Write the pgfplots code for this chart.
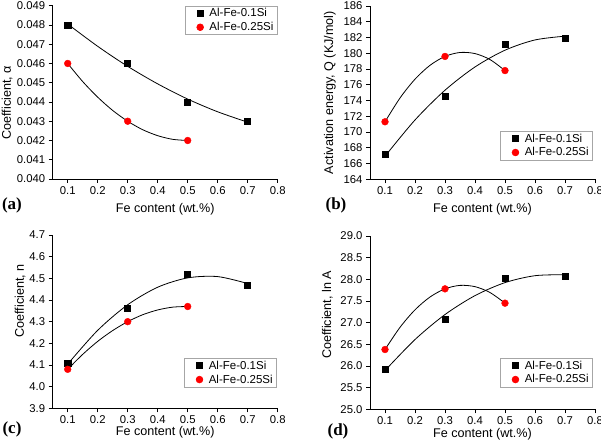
\documentclass[border=0pt]{standalone}
\usepackage{fontspec}
\setmainfont{Liberation Sans}
\newfontfamily\seriffont{Liberation Serif}
\usepackage{pgfplots}
\pgfplotsset{compat=1.18}

\newcommand\tickfont{\fontsize{11.3}{13}\selectfont}
\newcommand\labfont{\fontsize{12.6}{14}\selectfont}
\newcommand\legfont{\fontsize{11.5}{13}\selectfont}

\pgfplotsset{
  panel/.style={
    scale only axis, width=225pt, height=173.3pt,
    axis lines=left, axis line style={-, line width=0.9pt},
    tick align=outside, major tick length=4pt,
    tick style={line width=0.9pt, black},
    xmin=0.05, xmax=0.8, xtick={0.1,0.2,0.3,0.4,0.5,0.6,0.7,0.8},
    scaled ticks=false,
    /pgf/number format/assume math mode=true,
    xticklabel style={font=\tickfont, /pgf/number format/fixed, /pgf/number format/precision=1},
    yticklabel style={font=\tickfont},
    xlabel={Fe content (wt.\%)},
    clip=false,
    legend cell align=left,
    legend image code/.code={
      \draw[opacity=0] (-5pt,0pt) -- (15pt,0pt);
      \draw[##1, /tikz/only marks] plot coordinates {(8pt,0pt)};
    },
    legend style={draw=gray!70, line width=0.6pt, anchor=north east,
      font=\legfont, inner xsep=2pt, inner ysep=1pt,
      nodes={inner ysep=1.5pt}, row sep=1pt},
  },
  fitline/.style={black, line width=0.8pt, smooth, no marks, forget plot},
  sqpt/.style={only marks, mark=square*, mark size=3pt, black},
  rdpt/.style={only marks, mark=*, mark size=3.4pt, red, mark options={draw=red, fill=red}},
}

\begin{document}
\begin{tikzpicture}
\useasboundingbox (0,0) rectangle (601pt,447pt);

% (a) coefficient alpha
\begin{axis}[panel, at={(52.7pt,268pt)}, anchor=south west,
  ymin=0.040, ymax=0.049,
  ytick={0.040,0.041,0.042,0.043,0.044,0.045,0.046,0.047,0.048,0.049},
  yticklabel style={/pgf/number format/fixed, /pgf/number format/fixed zerofill, /pgf/number format/precision=3},
  ylabel={Coefficient, α},
  every axis y label/.style={at={(axis description cs:-0.203,0.44)}, rotate=90, anchor=center, font=\labfont},
  every axis x label/.style={at={(axis description cs:0.5,0)}, anchor=center, yshift=-30pt, font=\labfont},
  legend style={at={(axis description cs:1,1)}}]
\addplot[fitline] coordinates {(0.1,0.04805)(0.2,0.04689)(0.3,0.04585)(0.4,0.04494)(0.5,0.04415)(0.6,0.04349)(0.7,0.04295)};
\addplot[fitline] coordinates {(0.1,0.046)(0.15,0.04506)(0.2,0.04425)(0.25,0.04356)(0.3,0.043)(0.35,0.04256)(0.4,0.04225)(0.45,0.04206)(0.5,0.042)};
\addplot[sqpt] coordinates {(0.1,0.048)(0.3,0.046)(0.5,0.044)(0.7,0.043)};
\addplot[rdpt] coordinates {(0.1,0.046)(0.3,0.043)(0.5,0.042)};
\legend{Al-Fe-0.1Si, Al-Fe-0.25Si}
\end{axis}

% (b) activation energy
\begin{axis}[panel, at={(370pt,267.7pt)}, anchor=south west,
  ymin=164, ymax=186, ytick={164,166,...,186},
  ylabel={Activation energy, Q (KJ/mol)},
  every axis y label/.style={at={(axis description cs:-0.178,0.5)}, rotate=90, anchor=center, font=\labfont},
  every axis x label/.style={at={(axis description cs:0.5,0)}, anchor=center, yshift=-30pt, font=\labfont},
  legend style={at={(axis description cs:0.991,0.279)}}]
\addplot[fitline] coordinates {(0.1,166.93)(0.2,171.53)(0.3,175.31)(0.4,178.26)(0.5,180.39)(0.6,181.69)(0.7,182.17)};
\addplot[fitline] coordinates {(0.1,171.3)(0.15,174.32)(0.2,176.71)(0.25,178.47)(0.3,179.6)(0.35,180.10)(0.4,179.96)(0.45,179.20)(0.5,177.8)};
\addplot[sqpt] coordinates {(0.1,167.2)(0.3,174.5)(0.5,181.2)(0.7,181.9)};
\addplot[rdpt] coordinates {(0.1,171.3)(0.3,179.6)(0.5,177.8)};
\legend{Al-Fe-0.1Si, Al-Fe-0.25Si}
\end{axis}

% (c) coefficient n
\begin{axis}[panel, at={(52.7pt,38.7pt)}, anchor=south west,
  ymin=3.9, ymax=4.7, ytick={3.9,4.0,4.1,4.2,4.3,4.4,4.5,4.6,4.7},
  yticklabel style={/pgf/number format/fixed, /pgf/number format/fixed zerofill, /pgf/number format/precision=1},
  ylabel={Coefficient, n},
  every axis y label/.style={at={(axis description cs:-0.145,0.62)}, rotate=90, anchor=center, font=\labfont},
  every axis x label/.style={at={(axis description cs:0.5,0)}, anchor=center, yshift=-24pt, font=\labfont},
  legend style={at={(axis description cs:0.997,0.29)}}]
\addplot[fitline] coordinates {(0.1,4.104)(0.2,4.260)(0.3,4.378)(0.4,4.459)(0.5,4.502)(0.6,4.508)(0.7,4.476)};
\addplot[fitline] coordinates {(0.1,4.08)(0.15,4.149)(0.2,4.209)(0.25,4.259)(0.3,4.30)(0.35,4.332)(0.4,4.354)(0.45,4.367)(0.5,4.37)};
\addplot[sqpt] coordinates {(0.1,4.11)(0.3,4.36)(0.5,4.52)(0.7,4.47)};
\addplot[rdpt] coordinates {(0.1,4.08)(0.3,4.30)(0.5,4.37)};
\legend{Al-Fe-0.1Si, Al-Fe-0.25Si}
\end{axis}

% (d) coefficient ln A
\begin{axis}[panel, at={(370pt,37.7pt)}, anchor=south west,
  ymin=25, ymax=29, ytick={25,25.5,26,26.5,27,27.5,28,28.5,29},
  yticklabel style={/pgf/number format/fixed, /pgf/number format/fixed zerofill, /pgf/number format/precision=1},
  ylabel={Coefficient, ln A},
  every axis y label/.style={at={(axis description cs:-0.19,0.545)}, rotate=90, anchor=center, font=\labfont},
  every axis x label/.style={at={(axis description cs:0.5,0)}, anchor=center, yshift=-25pt, font=\labfont},
  legend style={at={(axis description cs:0.991,0.296)}}]
\addplot[fitline] coordinates {(0.1,25.895)(0.2,26.610)(0.3,27.187)(0.4,27.624)(0.5,27.924)(0.6,28.084)(0.7,28.106)};
\addplot[fitline] coordinates {(0.1,26.38)(0.15,26.892)(0.2,27.296)(0.25,27.592)(0.3,27.78)(0.35,27.860)(0.4,27.831)(0.45,27.695)(0.5,27.45)};
\addplot[sqpt] coordinates {(0.1,25.93)(0.3,27.08)(0.5,28.03)(0.7,28.07)};
\addplot[rdpt] coordinates {(0.1,26.38)(0.3,27.78)(0.5,27.45)};
\legend{Al-Fe-0.1Si, Al-Fe-0.25Si}
\end{axis}

% panel letters
\node[font=\seriffont\bfseries\fontsize{17}{19}\selectfont] at (12pt,242pt) {(a)};
\node[font=\seriffont\bfseries\fontsize{17}{19}\selectfont] at (336pt,242pt) {(b)};
\node[font=\seriffont\bfseries\fontsize{17}{19}\selectfont] at (12pt,18pt) {(c)};
\node[font=\seriffont\bfseries\fontsize{17}{19}\selectfont] at (338pt,15.5pt) {(d)};
\end{tikzpicture}
\end{document}
